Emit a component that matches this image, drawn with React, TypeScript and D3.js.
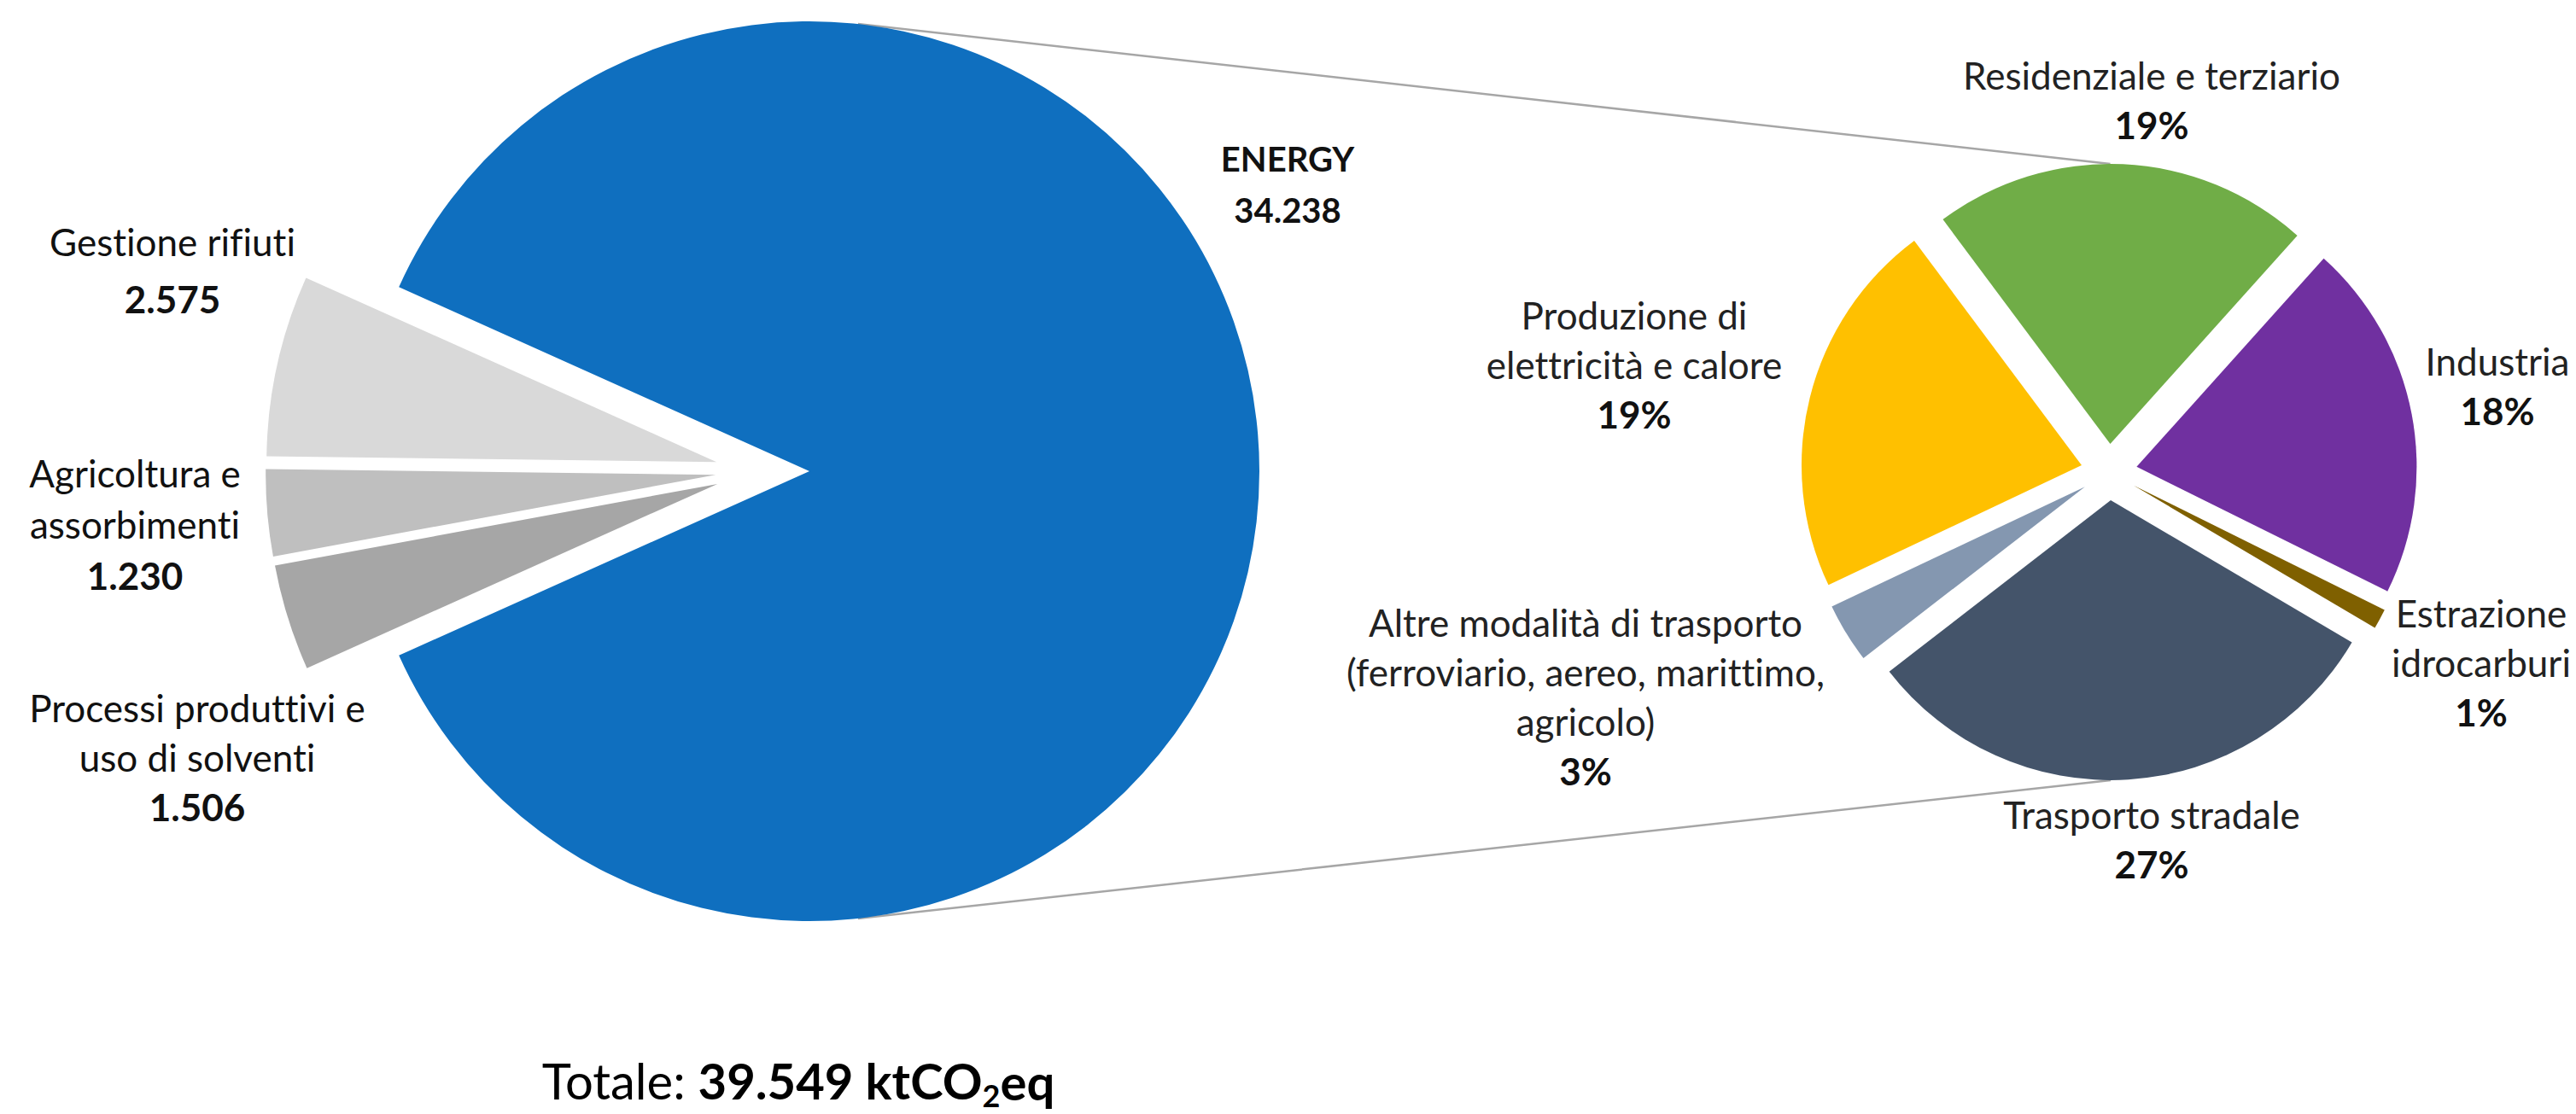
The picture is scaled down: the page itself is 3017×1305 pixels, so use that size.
import React from "react";
import * as d3 from "d3";

// ---------- data ----------
const mainLabels = ["ENERGY", "Processi produttivi e uso di solventi", "Agricoltura e assorbimenti", "Gestione rifiuti"];
const mainValues = [34238, 1506, 1230, 2575];
const mainColors = ["#0F6FBF", "#A6A6A6", "#BFBFBF", "#D9D9D9"];
const mainLabelLines = [["ENERGY"], ["Processi produttivi e", "uso di solventi"], ["Agricoltura e", "assorbimenti"], ["Gestione rifiuti"]];

const subLabels = [
  "Residenziale e terziario",
  "Industria",
  "Estrazione idrocarburi",
  "Trasporto stradale",
  "Altre modalità di trasporto (ferroviario, aereo, marittimo, agricolo)",
  "Produzione di elettricità e calore",
];
const subValues = [19, 18, 1, 27, 3, 19];
const subColors = ["#70AD47", "#7030A0", "#7F6000", "#44546A", "#8497B0", "#FFC000"];
const subLabelLines = [
  ["Residenziale e terziario"],
  ["Industria"],
  ["Estrazione", "idrocarburi"],
  ["Trasporto stradale"],
  ["Altre modalità di trasporto", "(ferroviario, aereo, marittimo,", "agricolo)"],
  ["Produzione di", "elettricità e calore"],
];

const totalLabel = "Totale: ";
const totalValue = 39549;
const totalUnit = ["ktCO", "2", "eq"];

// ---------- layout ----------
const W = 3017;
const H = 1305;
const FONT = "Lato, 'Open Sans', sans-serif";

const itFormat = d3.formatLocale({ decimal: ",", thousands: ".", grouping: [3], currency: ["", ""] }).format(",");

export default function App() {
  // main pie
  const mainCenter = [888, 552];
  const mainR = 527;
  const mainExplode = [60, 50, 50, 50];
  const energyAngle = (mainValues[0] / d3.sum(mainValues)) * 2 * Math.PI;
  const mainPie = d3
    .pie<number>()
    .sort(null)
    .startAngle(Math.PI / 2 - energyAngle / 2)
    .endAngle(Math.PI / 2 - energyAngle / 2 + 2 * Math.PI)(mainValues);
  const mainArc = d3.arc<d3.PieArcDatum<number>>().innerRadius(0).outerRadius(mainR);

  // sub pie
  const subCenter = [2470, 553];
  const subR = 328;
  const subExplode = 33;
  const subStart = (-36.7 * Math.PI) / 180;
  const subPie = d3.pie<number>().sort(null).startAngle(subStart).endAngle(subStart + 2 * Math.PI)(subValues);
  const subArc = d3.arc<d3.PieArcDatum<number>>().innerRadius(0).outerRadius(subR);

  const off = (a: d3.PieArcDatum<number>, d: number) => {
    const m = (a.startAngle + a.endAngle) / 2;
    return [Math.sin(m) * d, -Math.cos(m) * d];
  };

  // connector lines (tangent from big pie to sub pie)
  const eOff = off(mainPie[0], mainExplode[0]);
  const bigC = [mainCenter[0] + eOff[0], mainCenter[1] + eOff[1]];
  const tA = (6.2 * Math.PI) / 180;
  const topStart = [bigC[0] + Math.sin(tA) * mainR, bigC[1] - Math.cos(tA) * mainR];
  const botStart = [bigC[0] + Math.sin(Math.PI - tA) * mainR, bigC[1] - Math.cos(Math.PI - tA) * mainR];
  const gOff = off(subPie[0], subExplode);
  const sOff = off(subPie[3], subExplode);
  const topEnd = [subCenter[0] + gOff[0], subCenter[1] + gOff[1] - subR];
  const botEnd = [subCenter[0] + sOff[0], subCenter[1] + sOff[1] + subR];

  // label anchors (center x, first line center y)
  const mainLabelPos = [
    [1508, 187],
    [231, 831],
    [158, 556],
    [202, 285],
  ];
  const mainLineH = [60, 58, 60, 67];
  const mainSize = [40, 44, 44, 44];
  const subLabelPos = [
    [2520, 90],
    [2925, 425],
    [2906, 720],
    [2520, 956],
    [1857, 731],
    [1914, 371],
  ];
  const subLineH = 58;
  const subSize = 44;

  return (
    <svg
      width={W}
      height={H}
      style={{ position: "absolute", left: 0, top: 0, background: "#fff", fontVariantLigatures: "none" }}
      fontFamily={FONT}
    >
      <rect width={W} height={H} fill="#fff" />
      {/* connectors */}
      <line x1={topStart[0]} y1={topStart[1]} x2={topEnd[0]} y2={topEnd[1]} stroke="#A6A6A6" strokeWidth={2.5} />
      <line x1={botStart[0]} y1={botStart[1]} x2={botEnd[0]} y2={botEnd[1]} stroke="#A6A6A6" strokeWidth={2.5} />

      {/* main pie */}
      <g transform={`translate(${mainCenter[0]},${mainCenter[1]})`}>
        {mainPie.map((a, i) => {
          const o = off(a, mainExplode[i]);
          return <path key={i} d={mainArc(a) as string} fill={mainColors[i]} transform={`translate(${o[0]},${o[1]})`} />;
        })}
      </g>

      {/* sub pie */}
      <g transform={`translate(${subCenter[0]},${subCenter[1]})`}>
        {subPie.map((a, i) => {
          const o = off(a, subExplode);
          return <path key={i} d={subArc(a) as string} fill={subColors[i]} transform={`translate(${o[0]},${o[1]})`} />;
        })}
      </g>

      {/* main labels */}
      {mainLabels.map((l, i) => {
        const [x, y] = mainLabelPos[i];
        const lines = mainLabelLines[i];
        return (
          <g key={l} style={{ fontVariantLigatures: "none" }}>
            {lines.map((t, j) => (
              <text key={j} x={x} y={y + j * mainLineH[i]} dy="0.35em" textAnchor="middle" fontSize={mainSize[i]} fontWeight={i === 0 ? 700 : 400} fill="#111">
                {t}
              </text>
            ))}
            <text x={x} y={y + lines.length * mainLineH[i]} dy="0.35em" textAnchor="middle" fontSize={mainSize[i]} fontWeight={700} fill="#111">
              {itFormat(mainValues[i])}
            </text>
          </g>
        );
      })}

      {/* sub labels */}
      {subLabels.map((l, i) => {
        const [x, y] = subLabelPos[i];
        const lines = subLabelLines[i];
        return (
          <g key={l} style={{ fontVariantLigatures: "none" }}>
            {lines.map((t, j) => (
              <text key={j} x={x} y={y + j * subLineH} dy="0.35em" textAnchor="middle" fontSize={subSize} fill="#222">
                {t}
              </text>
            ))}
            <text x={x} y={y + lines.length * subLineH} dy="0.35em" textAnchor="middle" fontSize={subSize} fontWeight={700} fill="#111">
              {subValues[i] + "%"}
            </text>
          </g>
        );
      })}

      {/* total */}
      <text x={935} y={1268} dy="0.35em" textAnchor="middle" fontSize={58} fill="#000">
        <tspan>{totalLabel}</tspan>
        <tspan fontWeight={700}>{itFormat(totalValue) + " " + totalUnit[0]}</tspan>
        <tspan fontWeight={700} fontSize={36} dy="0.25em">{totalUnit[1]}</tspan>
        <tspan fontWeight={700} dy="-0.15em">{totalUnit[2]}</tspan>
      </text>
    </svg>
  );
}
